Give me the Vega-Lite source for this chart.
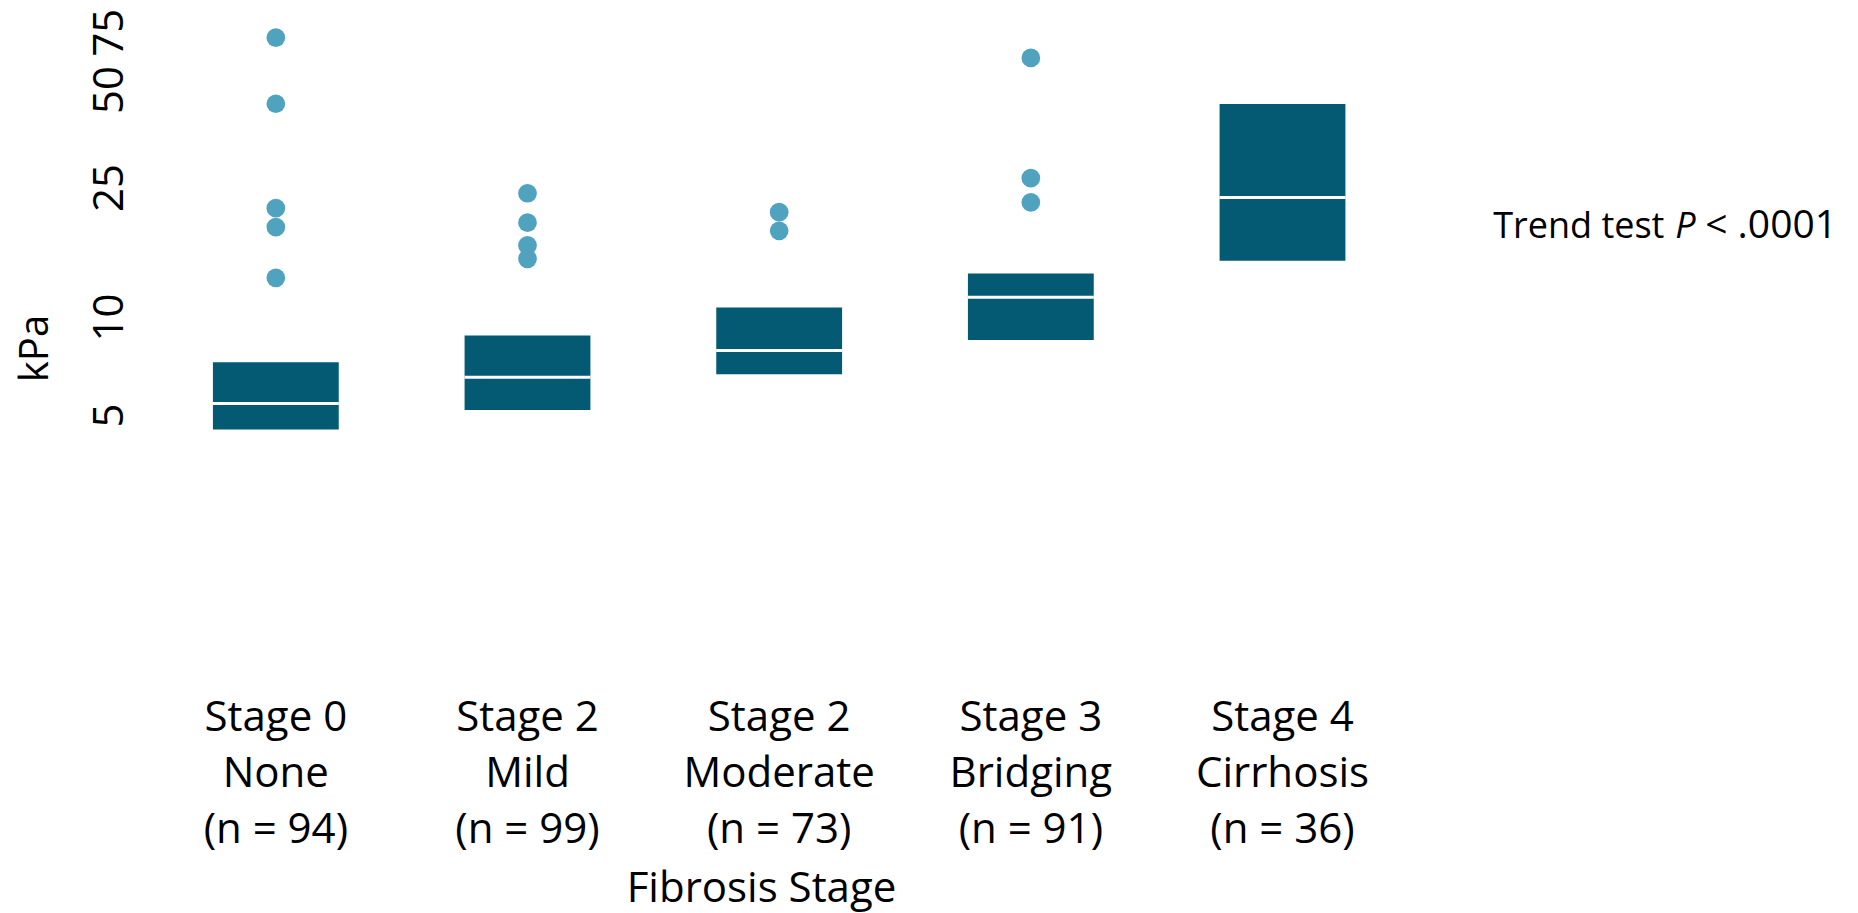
{
  "$schema": "https://vega.github.io/schema/vega-lite/v6.json",
  "width": 1510,
  "height": 685,
  "autosize": {"type": "none"},
  "padding": {"left": 150, "top": 5, "right": 198, "bottom": 223},
  "background": "white",
  "config": {
    "font": "Open Sans",
    "view": {"stroke": null},
    "axisY": {
      "title": "kPa",
      "labelExpr": "format(datum.value, 'd')",
      "labelFontSize": 42,
      "labelAngle": -90,
      "labelAlign": "center",
      "labelBaseline": "alphabetic",
      "labelPadding": 28,
      "labelColor": "black",
      "labelFlush": false,
      "labelOverlap": false,
      "ticks": false,
      "tickSize": 0,
      "domain": false,
      "grid": false,
      "titleFontSize": 40,
      "titleFontWeight": "normal",
      "titleColor": "black",
      "titleAngle": -90,
      "titleX": -115,
      "titleY": 343,
      "titleAlign": "center",
      "titleBaseline": "middle"
    }
  },
  "datasets": {
    "boxes": [
      {"stage": "Stage 0|None|(n = 94)", "q1": 4.52, "med": 5.43, "q3": 7.27},
      {"stage": "Stage 2|Mild|(n = 99)", "q1": 5.18, "med": 6.53, "q3": 8.78},
      {"stage": "Stage 2|Moderate|(n = 73)", "q1": 6.67, "med": 7.9, "q3": 10.7},
      {"stage": "Stage 3|Bridging|(n = 91)", "q1": 8.5, "med": 11.5, "q3": 13.6},
      {"stage": "Stage 4|Cirrhosis|(n = 36)", "q1": 14.9, "med": 23.3, "q3": 45.1}
    ],
    "outliers": [
      {"stage": "Stage 0|None|(n = 94)", "kpa": 72.1},
      {"stage": "Stage 0|None|(n = 94)", "kpa": 45.2},
      {"stage": "Stage 0|None|(n = 94)", "kpa": 21.6},
      {"stage": "Stage 0|None|(n = 94)", "kpa": 18.9},
      {"stage": "Stage 0|None|(n = 94)", "kpa": 13.2},
      {"stage": "Stage 2|Mild|(n = 99)", "kpa": 24.0},
      {"stage": "Stage 2|Mild|(n = 99)", "kpa": 19.5},
      {"stage": "Stage 2|Mild|(n = 99)", "kpa": 16.6},
      {"stage": "Stage 2|Mild|(n = 99)", "kpa": 15.1},
      {"stage": "Stage 2|Moderate|(n = 73)", "kpa": 21.0},
      {"stage": "Stage 2|Moderate|(n = 73)", "kpa": 18.4},
      {"stage": "Stage 3|Bridging|(n = 91)", "kpa": 62.5},
      {"stage": "Stage 3|Bridging|(n = 91)", "kpa": 26.7},
      {"stage": "Stage 3|Bridging|(n = 91)", "kpa": 22.5}
    ],
    "note": [
      {"stage": "note", "kpa": 17.5, "a": "Trend test", "b": "P", "c": "< .0001"}
    ]
  },
  "encoding": {
    "x": {
      "field": "stage",
      "type": "nominal",
      "sort": null,
      "scale": {
        "domain": ["Stage 0|None|(n = 94)", "Stage 2|Mild|(n = 99)", "Stage 2|Moderate|(n = 73)", "Stage 3|Bridging|(n = 91)", "Stage 4|Cirrhosis|(n = 36)", "note"],
        "paddingInner": 0,
        "paddingOuter": 0
      },
      "axis": {
        "title": "Fibrosis Stage",
        "titleFontSize": 42,
        "titleFontWeight": "normal",
        "titleColor": "black",
        "titleX": 611,
        "titleY": 211,
        "titleAlign": "center",
        "titleBaseline": "alphabetic",
        "labelExpr": "datum.value == 'note' ? '' : split(datum.value, '|')",
        "labelFontSize": 42,
        "labelLineHeight": 56,
        "labelAngle": 0,
        "labelBaseline": "top",
        "labelPadding": 7,
        "labelColor": "black",
        "labelLimit": 0,
        "labelOverlap": false,
        "ticks": false,
        "domain": false,
        "grid": false
      }
    }
  },
  "layer": [
    {
      "data": {"name": "boxes"},
      "mark": {"type": "bar", "color": "#035a72", "width": {"band": 0.5}},
      "encoding": {
        "y": {
          "field": "q1",
          "type": "quantitative",
          "title": "kPa",
          "axis": {"values": [5, 10, 25, 50, 75]},
          "scale": {"type": "log", "domain": [0.7158, 90.86], "nice": false}
        },
        "y2": {"field": "q3"}
      }
    },
    {
      "data": {"name": "boxes"},
      "mark": {"type": "tick", "color": "white", "thickness": 3, "size": 126, "opacity": 1},
      "encoding": {
        "y": {"field": "med", "type": "quantitative", "title": "kPa", "axis": {"values": [5, 10, 25, 50, 75]}}
      }
    },
    {
      "data": {"name": "outliers"},
      "mark": {"type": "circle", "color": "#4fa3be", "size": 350, "opacity": 1},
      "encoding": {
        "y": {"field": "kpa", "type": "quantitative", "title": "kPa", "axis": {"values": [5, 10, 25, 50, 75]}}
      }
    },
    {
      "data": {"name": "note"},
      "mark": {"type": "text", "fontSize": 36, "align": "left", "baseline": "alphabetic", "dx": -41, "color": "black"},
      "encoding": {
        "y": {"field": "kpa", "type": "quantitative", "title": "kPa", "axis": {"values": [5, 10, 25, 50, 75]}},
        "text": {"field": "a"}
      }
    },
    {
      "data": {"name": "note"},
      "mark": {"type": "text", "fontSize": 36, "fontStyle": "italic", "align": "left", "baseline": "alphabetic", "dx": 141, "color": "black"},
      "encoding": {
        "y": {"field": "kpa", "type": "quantitative", "title": "kPa", "axis": {"values": [5, 10, 25, 50, 75]}},
        "text": {"field": "b"}
      }
    },
    {
      "data": {"name": "note"},
      "mark": {"type": "text", "fontSize": 39, "align": "left", "baseline": "alphabetic", "dx": 171, "color": "black"},
      "encoding": {
        "y": {"field": "kpa", "type": "quantitative", "title": "kPa", "axis": {"values": [5, 10, 25, 50, 75]}},
        "text": {"field": "c"}
      }
    }
  ]
}
